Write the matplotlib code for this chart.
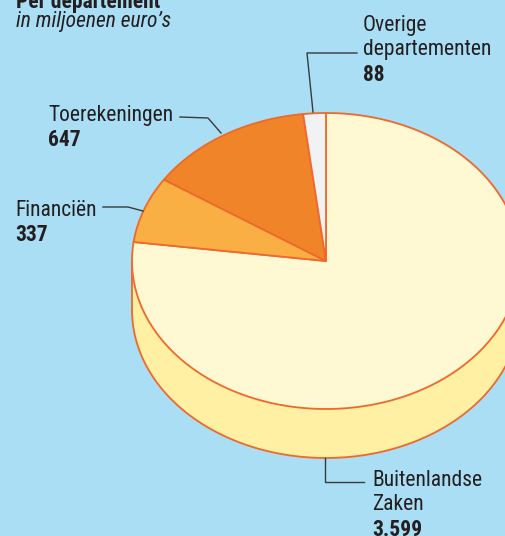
import numpy as np
import matplotlib
matplotlib.use("Agg")
import matplotlib.pyplot as plt
from matplotlib.patches import Polygon
from matplotlib import font_manager as fm

categories = ["Buitenlandse Zaken", "Financiën", "Toerekeningen", "Overige departementen"]
values = [3599, 337, 647, 88]
value_labels = ["3.599", "337", "647", "88"]
face_colors = ["#FEF8D3", "#F9AF43", "#F08428", "#F1F2F4"]
side_color = "#FFF0A3"
edge_color = "#F0682C"
bg = "#A9DEF4"

available = {f.name for f in fm.fontManager.ttflist}
FONT = "DejaVu Sans"
STRETCH = "condensed"
for cand in ["Roboto Condensed", "Archivo Narrow", "PT Sans Narrow", "Liberation Sans Narrow", "Asap Condensed"]:
    if cand in available:
        FONT = cand
        STRETCH = "normal"
        break

fig = plt.figure(figsize=(5.05, 5.36), dpi=100, facecolor=bg)
ax = fig.add_axes([0, 0, 1, 1])
ax.set_facecolor(bg)
ax.set_xlim(0, 505)
ax.set_ylim(536, 0)
ax.axis("off")

cx, cy, a, b, depth = 326, 261, 194, 148, 49

def pt(theta_deg, dy=0):
    t = np.radians(theta_deg)
    return cx + a * np.cos(t), cy - b * np.sin(t) + dy

total = sum(values)
angles = [90]
for v in values:
    angles.append(angles[-1] - v / total * 360)

# side (front half, visible part of first slice)
ts = np.linspace(180, 360, 200)
top = [pt(t) for t in ts]
bot = [pt(t, depth) for t in ts[::-1]]
ax.add_patch(Polygon(top + bot, closed=True, facecolor=side_color, edgecolor="none", zorder=1))
ax.plot([p[0] for p in bot], [p[1] for p in bot], color=edge_color, lw=1.3, zorder=2)
x0, y0 = pt(180)
ax.plot([x0, x0], [y0, y0 + depth], color=edge_color, lw=1.3, zorder=2)

# top faces
for i in range(len(values)):
    t1, t2 = angles[i], angles[i + 1]
    ts = np.linspace(t1, t2, 200)
    verts = [(cx, cy)] + [pt(t) for t in ts]
    ax.add_patch(Polygon(verts, closed=True, facecolor=face_colors[i],
                         edgecolor=edge_color, lw=1.3, joinstyle="round", zorder=3))

fs = 15.5
txt = dict(color="#231F20", family=FONT, stretch=STRETCH, fontsize=fs, va="center", ha="left")
ax.text(16, 2, "Per departement", fontweight="bold", **txt)
ax.text(16, 22, "in miljoenen euro’s", style="italic", **txt)

ax.text(363, 25, "Overige", **txt)
ax.text(363, 50, "departementen", **txt)
ax.text(363, 75, value_labels[3], fontweight="bold", **txt)

ax.text(48, 116, "Toerekeningen", **txt)
ax.text(48, 140, value_labels[2], fontweight="bold", **txt)

ax.text(15, 210, "Financiën", **txt)
ax.text(15, 235, value_labels[1], fontweight="bold", **txt)

ax.text(372, 481, "Buitenlandse", **txt)
ax.text(372, 505, "Zaken", **txt)
ax.text(372, 530, value_labels[0], fontweight="bold", **txt)

lc = dict(color="#3A3A3A", lw=1.0, zorder=4)
ax.plot([357, 307, 313], [53, 53, 112], **lc)
ax.plot([180, 208, 221], [117, 118, 133], **lc)
ax.plot([103, 128, 143], [207, 207, 211], **lc)
ax.plot([325, 325, 364], [458, 482, 482], **lc)

fig.savefig("out.png", dpi=100, facecolor=bg)
